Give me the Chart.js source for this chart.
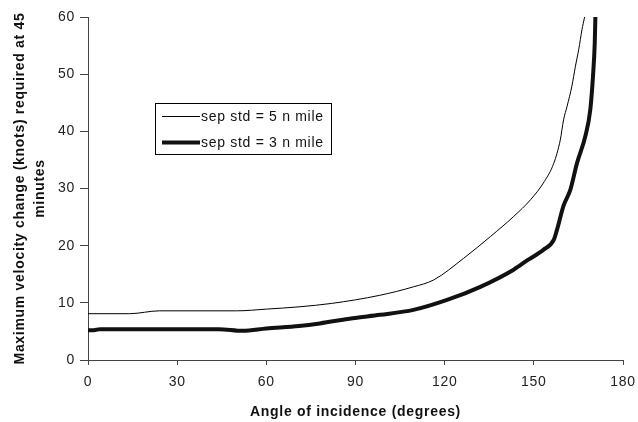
<!DOCTYPE html>
<html>
<head>
<meta charset="utf-8">
<script src="https://cdn.jsdelivr.net/npm/chart.js@4/dist/chart.umd.min.js"></script>
<style>
  html, body { margin: 0; padding: 0; background: #fff; }
  #wrap { width: 638px; height: 422px; position: relative; }
</style>
</head>
<body>
<div id="wrap"><canvas id="velChart"></canvas></div>
<script>
const seriesLabels = ['sep std = 5 n mile', 'sep std = 3 n mile'];

// sep std = 5 n mile (thin line)
const angles5 = [0, 14, 24, 50, 60, 71, 82, 98, 109.5, 116.3, 126.4, 135.4, 143.2, 149, 153.5, 156.7, 158.9, 160, 161.2, 162.8, 164, 165.1, 166.2, 167, 167.6];
const speed5 = [8.1, 8.1, 8.6, 8.6, 8.9, 9.3, 9.9, 11.3, 12.8, 14.0, 17.8, 21.6, 25.1, 28.1, 31.2, 34.4, 38.5, 42, 44.4, 47.9, 51.4, 54.3, 57.8, 59.8, 61.5];

// sep std = 3 n mile (thick line)
const angles3 = [0, 2, 4, 44, 52, 60, 71, 78, 89, 98.3, 109.5, 120.8, 132, 143.2, 148, 153.3, 156.7, 157.8, 160, 162.3, 164.5, 167.3, 169, 169.9, 170.5, 170.7, 170.9];
const speed3 = [5.2, 5.2, 5.4, 5.4, 5.1, 5.5, 5.95, 6.4, 7.3, 7.9, 8.76, 10.5, 12.8, 15.8, 17.5, 19.3, 21.0, 22.8, 27.0, 29.8, 34.4, 39.1, 43.8, 49.6, 55.5, 59.8, 62];

const xTicks = [0, 30, 60, 90, 120, 150, 180];
const yTicks = [0, 10, 20, 30, 40, 50, 60];

function pts(xs, ys) {
    return xs.map((x, i) => ({ x: x, y: ys[i] }));
}

const FONT = '"Liberation Sans", Arial, sans-serif';
const SPACING = '0.7px';

// the original text is set a little wide
const wideText = {
    id: 'wideText',
    beforeUpdate(chart) { chart.ctx.letterSpacing = SPACING; },
    beforeDraw(chart) { chart.ctx.letterSpacing = SPACING; }
};

// legend box drawn inside the plot
const boxLegend = {
    id: 'boxLegend',
    afterDraw(chart) {
        const c = chart.ctx;
        const x0 = 155.5, y0 = 103.5, w = 176, h = 51;
        c.save();
        c.fillStyle = '#fff';
        c.fillRect(x0, y0, w, h);
        c.strokeStyle = '#000';
        c.lineWidth = 1;
        c.strokeRect(x0, y0, w, h);
        c.font = '14px ' + FONT;
        c.textBaseline = 'middle';
        chart.data.datasets.forEach((ds, i) => {
            const yy = 116.5 + i * 26;
            c.strokeStyle = ds.borderColor;
            c.lineWidth = ds.borderWidth;
            c.beginPath();
            c.moveTo(162, yy);
            c.lineTo(200, yy);
            c.stroke();
            c.fillStyle = '#111';
            c.fillText(ds.label, 201, yy + 1);
        });
        c.restore();
    }
};

const ctx = document.getElementById('velChart').getContext('2d');
let chart = new Chart(ctx, {
    type: 'line',
    data: {
        datasets: [{
            label: seriesLabels[0],
            data: pts(angles5, speed5),
            borderColor: '#000',
            borderWidth: 1,
            pointRadius: 0,
            cubicInterpolationMode: 'monotone',
            fill: false
        }, {
            label: seriesLabels[1],
            data: pts(angles3, speed3),
            borderColor: '#111',
            borderWidth: 4,
            pointRadius: 0,
            cubicInterpolationMode: 'monotone',
            fill: false
        }]
    },
    options: {
        responsive: true,
        maintainAspectRatio: false,
        animation: false,
        layout: { padding: { top: 17, right: 15, left: 0, bottom: 0 } },
        plugins: {
            legend: { display: false },
            tooltip: { enabled: false }
        },
        scales: {
            x: {
                type: 'linear',
                min: 0,
                max: 180,
                afterBuildTicks: (s) => { s.ticks = xTicks.map(v => ({ value: v })); },
                grid: { display: true, drawOnChartArea: false, drawTicks: true, tickLength: 5, color: '#444' },
                border: { color: '#444', width: 1 },
                ticks: { color: '#222', font: { family: FONT, size: 14 }, padding: 9, maxRotation: 0 },
                title: {
                    display: true,
                    text: 'Angle of incidence (degrees)',
                    color: '#111',
                    font: { family: FONT, size: 14, weight: 'bold' },
                    padding: { top: 8, bottom: 1 }
                },
                afterFit: (s) => { s.height = 62; s.paddingLeft = 0; s.paddingRight = 0; }
            },
            y: {
                min: 0,
                max: 60,
                afterBuildTicks: (s) => { s.ticks = yTicks.map(v => ({ value: v })); },
                grid: { display: true, drawOnChartArea: false, drawTicks: true, tickLength: 8, color: '#444' },
                border: { color: '#444', width: 1 },
                ticks: { color: '#222', font: { family: FONT, size: 14 }, padding: 5 },
                title: {
                    display: true,
                    text: ['Maximum velocity change (knots) required at 45', 'minutes'],
                    color: '#111',
                    font: { family: FONT, size: 14, weight: 'bold', lineHeight: 1.43 },
                    padding: { top: 10, bottom: 4 }
                },
                afterFit: (s) => { s.width = 88; }
            }
        }
    },
    plugins: [wideText, boxLegend]
});
</script>
</body>
</html>
